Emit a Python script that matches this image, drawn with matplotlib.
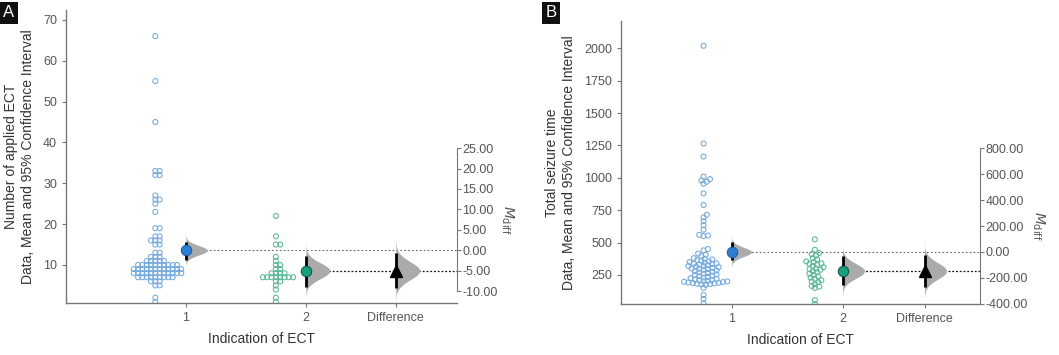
import numpy as np
import matplotlib.pyplot as plt

plt.rcParams['font.family'] = ['Liberation Sans', 'DejaVu Sans']

# panel A: number of applied ECT
ect_g1 = [66, 55, 45, 33, 33, 32, 32, 27, 26, 26, 25, 23, 19, 19, 17, 17, 16, 16, 16,
          15, 15, 13, 13, 12, 12, 12, 11, 11, 11, 11, 11,
          10, 10, 10, 10, 10, 10, 10, 10, 10, 10,
          9, 9, 9, 9, 9, 9, 9, 9, 9, 9, 9, 9,
          8, 8, 8, 8, 8, 8, 8, 8, 8, 8, 8, 8,
          7, 7, 7, 7, 7, 7, 7, 7, 7, 6, 6, 6, 5, 5, 2, 1]
ect_g2 = [22, 17, 15, 15, 12, 11, 10, 10, 9, 9, 8, 8, 8, 8,
          7, 7, 7, 7, 7, 7, 7, 7, 6, 6, 5, 4, 2, 1]
ect_means = [13.6, 8.6]
ect_ci = [(11.2, 15.7), (4.7, 12.3)]
ect_diff = -5.0
ect_diff_ci = (-9.3, -0.7)

# panel B: total seizure time
seiz_g1 = [2020, 1265, 1165, 1010, 990, 980, 970, 955, 880, 790, 715, 695, 665, 635,
           600, 560, 555, 550, 450, 440, 415, 405, 395, 380,
           375, 370, 365, 360, 355, 350, 345, 340, 338, 335, 330, 325, 320, 318, 315,
           310, 305, 300, 298, 295, 290, 285, 280, 275, 270, 265, 260, 255, 250, 245,
           240, 235, 230, 225, 220, 215, 212, 210, 205, 202, 200, 198, 195, 192, 190,
           188, 185, 182, 180, 178, 175, 150, 95, 65, 30]
seiz_g2 = [525, 445, 420, 410, 400, 380, 370, 355, 350, 340, 335, 330, 320, 310,
           300, 295, 290, 280, 270, 260, 250, 240, 230, 220, 210, 200, 195, 180,
           165, 160, 150, 55, 25]
seiz_means = [428, 281]
seiz_ci = [(366, 505), (173, 397)]
seiz_diff = -147
seiz_diff_ci = (-270, -23)

group_labels = ['1', '2', 'Difference']

GRAY = '#555555'


def swarm(ax, vals, xc, d):
    vals = np.asarray(vals, float)
    p0 = ax.transData.transform((0, 0))
    p1 = ax.transData.transform((1, 0))
    ppx = p1[0] - p0[0]
    ys = ax.transData.transform(np.column_stack([np.full(len(vals), xc), vals]))[:, 1]
    order = np.argsort(ys)
    px, py = [], []
    xs = np.zeros(len(vals))
    cands = [0.0]
    for k in range(1, 80):
        cands += [k * d * 0.3, -k * d * 0.3]
    for i in order:
        y = ys[i]
        for c in cands:
            if all((c - a) ** 2 + (y - b) ** 2 >= d * d for a, b in zip(px, py)):
                break
        xs[i] = c
        px.append(c)
        py.append(y)
    return xc + xs / ppx


def density(ax, x, m, lo, hi, w):
    se = (hi - lo) / 2 / 1.96
    yy = np.linspace(m - 3.8 * se, m + 3.8 * se, 200)
    dd = np.exp(-0.5 * ((yy - m) / se) ** 2)
    ax.fill_betweenx(yy, x, x + w * dd, color='#ababab', lw=0, zorder=2)


def panel(fig, rect, g1, g2, means, cis, diff, diff_ci, ylim, yticks, rticks,
          ylabel, xdiff, xmax, letter, lx, lab_off):
    ax = fig.add_axes(rect)
    ax.set_xlim(0, xmax)
    ax.set_ylim(*ylim)
    for s in ['top', 'right']:
        ax.spines[s].set_visible(False)
    for s in ['left', 'bottom']:
        ax.spines[s].set_color('#777777')
        ax.spines[s].set_linewidth(1.0)
    ax.set_yticks(yticks)
    ax.set_xticks([1, 2, xdiff])
    ax.set_xticklabels(group_labels)
    ax.tick_params(colors='#777777', labelcolor=GRAY, labelsize=9, length=3)
    ax.set_ylabel(ylabel, fontsize=10, color='#333333', labelpad=6)
    ax.set_xlabel('Indication of ECT', fontsize=10, color='#333333', labelpad=6)

    # raw data
    x1 = swarm(ax, g1, 0.745, 3.6)
    x2 = swarm(ax, g2, 1.75, 3.6)
    ax.scatter(x1, g1, s=13, facecolors='none', edgecolors='#72a9de', linewidths=0.75, zorder=3)
    ax.scatter(x2, g2, s=13, facecolors='none', edgecolors='#58b793', linewidths=0.75, zorder=3)

    m1, m2 = means
    dw = 0.2 * xmax / 3.26
    density(ax, 1, m1, cis[0][0], cis[0][1], dw * 0.9)
    density(ax, 2, m2, cis[1][0], cis[1][1], dw)
    density(ax, xdiff, m1 + diff, m1 + diff_ci[0], m1 + diff_ci[1], dw)

    ax.plot([1, xmax], [m1, m1], ls=(0, (1.5, 2)), color='#666666', lw=0.8, zorder=1)
    ax.plot([2, xmax], [m2, m2], ls=(0, (1.5, 1.5)), color='#111111', lw=0.9, zorder=1)

    ax.vlines([1, 2, xdiff], [cis[0][0], cis[1][0], m1 + diff_ci[0]],
              [cis[0][1], cis[1][1], m1 + diff_ci[1]], color='black', lw=2, zorder=4)
    ax.plot(1, m1, 'o', ms=7.5, color='#2d7fd3', mec='#1f5fa8', mew=0.8, zorder=5)
    ax.plot(2, m2, 'o', ms=7.5, color='#16a07c', mec='#0d5a46', mew=0.8, zorder=5)
    ax.plot(xdiff, m1 + diff, '^', ms=9, color='black', zorder=5)

    # difference axis
    ax2 = ax.twinx()
    lo2, hi2 = ylim[0] - m1, ylim[1] - m1
    ax2.set_ylim(lo2, hi2)
    for s in ['top', 'left', 'bottom']:
        ax2.spines[s].set_visible(False)
    ax2.spines['right'].set_bounds(rticks[0], rticks[-1])
    ax2.spines['right'].set_color('#777777')
    ax2.set_yticks(rticks)
    ax2.set_yticklabels(['%.2f' % t for t in rticks])
    ax2.tick_params(colors='#777777', labelcolor=GRAY, labelsize=9, length=3, pad=1)
    ax2.set_ylabel(r'$M_{\rm diff}$', fontsize=10, color=GRAY, rotation=270, va='center')
    ymid = ((rticks[0] + rticks[-1]) / 2 - lo2) / (hi2 - lo2)
    ax2.yaxis.set_label_coords(1 + lab_off / (rect[2] * 1059), ymid)

    fig.text(lx, 0.985, letter, color='white', fontsize=12, ha='left', va='top',
             bbox=dict(boxstyle='square,pad=0.2', fc='#111111', ec='none'))
    return ax


fig = plt.figure(figsize=(10.59, 3.55), dpi=100)

panel(fig, [0.0623, 0.1465, 0.3692, 0.8253], ect_g1, ect_g2, ect_means, ect_ci,
      ect_diff, ect_diff_ci, (0.7, 72.4), [10, 20, 30, 40, 50, 60, 70],
      [-10, -5, 0, 5, 10, 15, 20, 25],
      'Number of applied ECT\nData, Mean and 95% Confidence Interval',
      2.75, 3.26, 'A', 0.003, 50)

panel(fig, [0.5864, 0.1437, 0.339, 0.797], seiz_g1, seiz_g2, seiz_means, seiz_ci,
      seiz_diff, seiz_diff_ci, (26, 2211), [250, 500, 750, 1000, 1250, 1500, 1750, 2000],
      [-400, -200, 0, 200, 400, 600, 800],
      'Total seizure time\nData, Mean and 95% Confidence Interval',
      2.74, 3.24, 'B', 0.515, 58)

fig.savefig('out.png', dpi=100)
